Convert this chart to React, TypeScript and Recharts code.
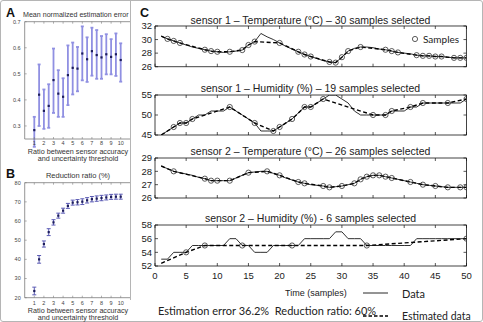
import React from 'react';
import { ComposedChart, Line, Scatter, ErrorBar, XAxis, YAxis } from 'recharts';

const sans = '"Liberation Sans", Arial, sans-serif';
const lato = 'Lato, "Liberation Sans", sans-serif';

// ratio between sensor accuracy and uncertainty threshold
const ratios = [1, 1.5, 2, 2.5, 3, 3.5, 4, 4.5, 5, 5.5, 6, 6.5, 7, 7.5, 8, 8.5, 9, 9.5, 10];
const ratioTicks = [1, 2, 3, 4, 5, 6, 7, 8, 9, 10];

// mean normalized estimation error with its spread
const errMean = [0.284, 0.42, 0.358, 0.377, 0.476, 0.424, 0.412, 0.495, 0.523, 0.52, 0.578, 0.556, 0.587, 0.572, 0.563, 0.575, 0.565, 0.575, 0.553];
const errLow = [0.22, 0.3, 0.289, 0.293, 0.35, 0.335, 0.335, 0.38, 0.421, 0.433, 0.475, 0.469, 0.493, 0.481, 0.481, 0.498, 0.498, 0.492, 0.47];
const errHigh = [0.335, 0.536, 0.44, 0.46, 0.597, 0.514, 0.483, 0.609, 0.62, 0.603, 0.682, 0.64, 0.677, 0.668, 0.645, 0.652, 0.633, 0.655, 0.617];
const errTicks = [0.3, 0.4, 0.5, 0.6, 0.7];

// reduction ratio (%) with its spread
const redMean = [23.5, 40.0, 48.0, 54.2, 59.3, 62.8, 65.4, 67.9, 69.6, 69.8, 70.1, 70.8, 71.4, 71.7, 72.0, 72.3, 72.6, 72.7, 72.7];
const redLow = [21.5, 38.0, 46.4, 52.4, 57.9, 61.5, 64.1, 66.6, 68.3, 68.4, 68.6, 69.4, 70.0, 70.3, 70.6, 71.0, 71.3, 71.4, 71.4];
const redHigh = [25.5, 42.0, 49.6, 56.0, 60.7, 64.1, 66.7, 69.2, 70.9, 71.2, 71.6, 72.2, 72.8, 73.1, 73.4, 73.6, 73.9, 74.0, 74.0];
const redTicks = [20, 30, 40, 50, 60, 70, 80];

// time (samples)
const timeSteps = [
  1, 2, 3, 4, 5, 6, 7, 8, 9, 10, 11, 12, 13, 14, 15, 16, 17, 18, 19, 20, 21, 22, 23, 24, 25,
  26, 27, 28, 29, 30, 31, 32, 33, 34, 35, 36, 37, 38, 39, 40, 41, 42, 43, 44, 45, 46, 47, 48, 49, 50,
];
const timeTicks = [0, 5, 10, 15, 20, 25, 30, 35, 40, 45, 50];

// sensor 1 - temperature
const s1Temp = [
  30.5, 30.1, 29.8, 29.5, 29.2, 28.9, 28.7, 28.5, 28.3, 28.2, 28.1, 28.2, 28.3, 28.45, 29.2, 29.7, 30.9, 30.4, 30.0, 29.5,
  29.0, 28.6, 28.2, 27.8, 27.5, 27.2, 26.9, 26.7, 26.6, 27.4, 28.3, 28.7, 28.9, 28.9, 28.8, 28.6, 28.5, 28.3, 28.1, 28.0,
  27.9, 27.7, 27.6, 27.6, 27.5, 27.5, 27.4, 27.3, 27.3, 27.3,
];
const s1TempSampleT = [2, 3, 4, 8, 9, 10, 12, 14, 15, 16, 20, 23, 24, 25, 28, 29, 30, 31, 33, 37, 38, 39, 42, 43, 44, 45, 46, 48, 49, 50];
const s1TempSampleV = [30.1, 29.8, 29.5, 28.5, 28.3, 28.2, 28.2, 28.45, 29.2, 29.7, 29.5, 28.2, 27.8, 27.5, 26.7, 26.6, 27.4, 28.3, 28.9, 28.5, 28.3, 28.1, 27.7, 27.6, 27.6, 27.5, 27.5, 27.3, 27.3, 27.3];
const s1TempStart = 30.5;

// sensor 1 - humidity
const s1Hum = [
  45, 46, 47, 48, 48, 49, 50, 50, 51, 51, 51, 52, 51, 50, 49, 48, 46, 46, 46, 47,
  48, 49, 50.5, 52, 52, 53, 54, 55, 55, 54, 53, 51, 50, 50, 50, 50, 50, 51, 51, 51,
  52, 52, 53, 53, 53, 53, 53, 53, 53, 54,
];
const s1HumSampleT = [3, 4, 5, 6, 12, 16, 19, 20, 22, 24, 25, 27, 35, 37, 38, 41, 43, 47, 50];
const s1HumSampleV = [47, 48, 48, 49, 52, 48, 46, 47, 49, 52, 52, 54, 50, 50, 51, 52, 53, 53, 54];
const s1HumStart = 45;

// sensor 2 - temperature
const s2Temp = [
  28.4, 28.2, 28.0, 27.9, 27.8, 27.7, 27.55, 27.45, 27.3, 27.3, 27.3, 27.3, 27.5, 27.7, 27.9, 27.95, 28.0, 28.0, 27.85, 27.7,
  27.5, 27.35, 27.2, 27.1, 27.0, 26.95, 26.9, 26.8, 26.85, 26.9, 27.0, 27.1, 27.4, 27.6, 27.7, 27.7, 27.6, 27.5, 27.4, 27.3,
  27.2, 27.1, 27.0, 26.95, 26.9, 26.85, 26.8, 26.8, 26.8, 26.8,
];
const s2TempSampleT = [3, 8, 9, 10, 12, 15, 18, 20, 23, 24, 27, 28, 30, 32, 33, 34, 35, 36, 37, 38, 41, 43, 45, 47, 49, 50];
const s2TempSampleV = [28.0, 27.45, 27.3, 27.3, 27.3, 27.9, 28.0, 27.7, 27.2, 27.1, 26.9, 26.8, 26.9, 27.1, 27.4, 27.6, 27.7, 27.7, 27.6, 27.5, 27.2, 27.0, 26.9, 26.8, 26.8, 26.8];
const s2TempStart = 28.4;

// sensor 2 - humidity
const s2Hum = [
  53, 53, 54, 54, 54, 55, 55, 55, 55, 55, 55, 56, 56, 55, 55, 54, 54, 54, 55, 55,
  55, 55, 55, 56, 56, 56, 56, 56, 57, 57, 56, 56, 56, 55, 55, 55, 55, 55, 55, 55,
  55, 56, 56, 56, 56, 56, 56, 56, 56, 56,
];
const s2HumSampleT = [5, 8, 14, 22, 34, 50];
const s2HumSampleV = [54, 55, 55, 55, 55, 56];
const s2HumStart = 52.4;

type RatioRow = { x: number; mean: number; err: [number, number] };
type SensorRow = { t: number; data: number; est: number | null; sample: number | null };

function ratioRows(mean: number[], low: number[], high: number[]): RatioRow[] {
  return ratios.map((x, i) => ({ x, mean: mean[i], err: [mean[i] - low[i], high[i] - mean[i]] }));
}

function sensorRows(values: number[], sampleT: number[], sampleV: number[], start: number): SensorRow[] {
  return timeSteps.map((t, i) => {
    const k = sampleT.indexOf(t);
    const sample = k >= 0 ? sampleV[k] : null;
    const est = i === 0 && k < 0 ? start : sample;
    return { t, data: values[i], est, sample };
  });
}

const noTick = () => <g />;

const meanMark = (p: any) => (
  <rect x={p.cx - 1.1} y={p.cy - 1.1} width={2.2} height={2.2} fill="#1d1d5c" />
);

function Text(props: {
  x: number; y: number; size: number; children: React.ReactNode; lh?: number;
  w?: number; align?: 'left' | 'center'; weight?: number; family?: string; color?: string;
}) {
  const { x, y, size, w, align = 'left', weight = 400, family = sans, color = '#222' } = props;
  const lh = props.lh ?? Math.ceil(size * 1.15);
  return (
    <div
      style={{
        position: 'absolute', left: x, top: y - lh / 2, width: w, height: lh, lineHeight: `${lh}px`,
        fontSize: size, fontWeight: weight, fontFamily: family, color, textAlign: align, whiteSpace: 'pre',
      }}
    >
      {props.children}
    </div>
  );
}

function RatioChart(props: {
  top: number; plotTop: number; plotBottom: number; rows: RatioRow[];
  domain: [number, number]; yTicks: number[]; fmt: (v: number) => string;
  barColor: string; barWidth: number; capWidth: number; labelGap: number;
}) {
  const { top, plotTop, plotBottom, rows, domain, yTicks, fmt } = props;
  const xh = 11;
  const axisColor = '#7a7a7a';
  const tickFont = { fontSize: 5.5, fill: '#444', fontFamily: sans };
  return (
    <div style={{ position: 'absolute', left: 0, top }}>
      <ComposedChart
        width={140}
        height={plotBottom - top + xh}
        data={rows}
        margin={{ top: plotTop - top, right: 9.7, bottom: 0, left: 4.7 }}
      >
        <XAxis xAxisId="b" dataKey="x" type="number" domain={[0, 11]} ticks={ratioTicks} interval={0} allowDataOverflow
          height={xh} tickLine={false} tickSize={1} tickMargin={props.labelGap}
          axisLine={{ stroke: axisColor, strokeWidth: 0.8 }} tick={tickFont} />
        <XAxis xAxisId="bi" dataKey="x" type="number" domain={[0, 11]} ticks={ratioTicks} interval={0} allowDataOverflow
          orientation="bottom" mirror axisLine={false} tickLine={{ stroke: axisColor, strokeWidth: 0.6 }} tickSize={2} tick={noTick} />
        <XAxis xAxisId="t" dataKey="x" type="number" domain={[0, 11]} ticks={ratioTicks} interval={0} allowDataOverflow
          orientation="top" mirror axisLine={{ stroke: axisColor, strokeWidth: 0.8 }} tickLine={{ stroke: axisColor, strokeWidth: 0.6 }} tickSize={2} tick={noTick} />
        <YAxis yAxisId="l" type="number" domain={domain} ticks={yTicks} interval={0} allowDataOverflow width={20}
          tickLine={false} tickSize={2} tickMargin={2} axisLine={{ stroke: axisColor, strokeWidth: 0.8 }}
          tick={tickFont} tickFormatter={fmt} />
        <YAxis yAxisId="li" type="number" domain={domain} ticks={yTicks} interval={0} allowDataOverflow
          mirror axisLine={false} tickLine={{ stroke: axisColor, strokeWidth: 0.6 }} tickSize={2} tick={noTick} />
        <Scatter xAxisId="b" yAxisId="l" dataKey="mean" shape={meanMark} isAnimationActive={false}>
          <ErrorBar dataKey="err" direction="y" stroke={props.barColor} strokeWidth={props.barWidth}
            width={props.capWidth} isAnimationActive={false} />
        </Scatter>
      </ComposedChart>
    </div>
  );
}

function SensorChart(props: {
  top: number; bottom: number; rows: SensorRow[]; domain: [number, number]; yTicks: number[]; showTime: boolean;
}) {
  const { top, bottom, rows, domain, yTicks, showTime } = props;
  const mTop = 6;
  const xh = showTime ? 16 : 6;
  const ink = '#111';
  const tickFont = { fontSize: 9.5, fill: '#222', fontFamily: sans };
  return (
    <div style={{ position: 'absolute', left: 130, top: top - mTop }}>
      <ComposedChart
        width={353}
        height={bottom - top + mTop + xh}
        data={rows}
        margin={{ top: mTop, right: 16.5, bottom: 0, left: 5 }}
      >
        <XAxis xAxisId="b" dataKey="t" type="number" domain={[0, 50]} ticks={timeTicks} interval={0} allowDataOverflow
          height={xh} tickLine={false} tickSize={2} tickMargin={4.3}
          axisLine={{ stroke: ink, strokeWidth: 0.8 }} tick={showTime ? tickFont : false} />
        <XAxis xAxisId="bi" dataKey="t" type="number" domain={[0, 50]} ticks={timeTicks} interval={0} allowDataOverflow
          orientation="bottom" mirror axisLine={false} tickLine={{ stroke: ink, strokeWidth: 0.7 }} tickSize={3} tick={noTick} />
        <XAxis xAxisId="t" dataKey="t" type="number" domain={[0, 50]} ticks={timeTicks} interval={0} allowDataOverflow
          orientation="top" mirror axisLine={{ stroke: ink, strokeWidth: 0.8 }} tickLine={{ stroke: ink, strokeWidth: 0.7 }} tickSize={3} tick={noTick} />
        <YAxis yAxisId="l" type="number" domain={domain} ticks={yTicks} interval={0} allowDataOverflow width={20}
          tickLine={false} tickSize={1} tickMargin={2} axisLine={{ stroke: ink, strokeWidth: 0.8 }} tick={tickFont} />
        <YAxis yAxisId="li" type="number" domain={domain} ticks={yTicks} interval={0} allowDataOverflow
          mirror axisLine={false} tickLine={{ stroke: ink, strokeWidth: 0.7 }} tickSize={3} tick={noTick} />
        <YAxis yAxisId="r" type="number" domain={domain} ticks={yTicks} interval={0} allowDataOverflow
          orientation="right" mirror axisLine={{ stroke: ink, strokeWidth: 0.8 }} tickLine={{ stroke: ink, strokeWidth: 0.7 }} tickSize={3} tick={noTick} />
        <Line xAxisId="b" yAxisId="l" type="linear" dataKey="data" stroke="#1a1a1a" strokeWidth={0.9}
          dot={false} activeDot={false} isAnimationActive={false} />
        <Line xAxisId="b" yAxisId="l" type="linear" dataKey="est" stroke="#000" strokeWidth={1.4} strokeDasharray="4 2.5"
          connectNulls dot={false} activeDot={false} isAnimationActive={false} />
        <Line xAxisId="b" yAxisId="l" type="linear" dataKey="sample" stroke="none"
          dot={{ r: 2.6, stroke: '#333', strokeWidth: 0.8, fill: 'none' }} activeDot={false} isAnimationActive={false} />
      </ComposedChart>
    </div>
  );
}

const errRows = ratioRows(errMean, errLow, errHigh);
const redRows = ratioRows(redMean, redLow, redHigh);
const s1TempRows = sensorRows(s1Temp, s1TempSampleT, s1TempSampleV, s1TempStart);
const s1HumRows = sensorRows(s1Hum, s1HumSampleT, s1HumSampleV, s1HumStart);
const s2TempRows = sensorRows(s2Temp, s2TempSampleT, s2TempSampleV, s2TempStart);
const s2HumRows = sensorRows(s2Hum, s2HumSampleT, s2HumSampleV, s2HumStart);

export default function App() {
  return (
    <div style={{ position: 'fixed', left: 0, top: 0, width: 483, height: 322, background: '#fff', overflow: 'hidden', fontFamily: sans }}>
      <div style={{ position: 'absolute', left: 0, top: 0, width: 481, height: 320, border: '1px solid #b5b5b5', borderRadius: 3 }} />
      <div style={{ position: 'absolute', left: 130, top: 0, width: 1, height: 300, background: '#b5b5b5' }} />

      {/* left column: A and B */}
      <div style={{ position: 'absolute', left: 0, top: 0, width: 130, height: 322, overflow: 'hidden' }}>
        <Text x={6} y={13} size={12.5} weight={700} color="#111">A</Text>
        <Text x={23} y={15} size={7.1} color="#333">Mean normalized estimation error</Text>
        <RatioChart top={0} plotTop={21.7} plotBottom={139} rows={errRows} domain={[0.25, 0.7]} yTicks={errTicks}
          fmt={(v) => v.toFixed(1)} barColor="#9090e2" barWidth={1.8} capWidth={1.5} labelGap={1.3} />
        <Text x={18} y={151.3} w={120} size={7.2} lh={7.5} align="center" color="#333">Ratio between sensor accuracy</Text>
        <Text x={18} y={159} w={120} size={7.2} lh={7.5} align="center" color="#333">and uncertainty threshold</Text>

        <Text x={6} y={174} size={12.5} weight={700} color="#111">B</Text>
        <Text x={18} y={175} w={120} size={7.5} align="center" color="#333">Reduction ratio (%)</Text>
        <RatioChart top={160} plotTop={182.7} plotBottom={297.7} rows={redRows} domain={[20, 80]} yTicks={redTicks}
          fmt={(v) => String(v)} barColor="#5a5ab4" barWidth={1} capWidth={2} labelGap={2.6} />
        <Text x={18} y={310.6} w={120} size={7.2} lh={7.5} align="center" color="#333">Ratio between sensor accuracy</Text>
        <Text x={18} y={318.2} w={120} size={7.2} lh={7.5} align="center" color="#333">and uncertainty threshold</Text>
      </div>

      {/* right column: C */}
      <Text x={140} y={13} size={12.5} weight={700} color="#111">C</Text>

      <Text x={155} y={20.7} w={311} size={10.5} align="center">sensor 1 – Temperature (°C) – 30 samples selected</Text>
      <SensorChart top={26} bottom={66.7} rows={s1TempRows} domain={[26, 32]} yTicks={[26, 28, 30, 32]} showTime={false} />
      <svg style={{ position: 'absolute', left: 410, top: 34 }} width={10} height={10}>
        <circle cx={5} cy={5} r={2.6} stroke="#333" strokeWidth={0.8} fill="none" />
      </svg>
      <Text x={423} y={39} size={10} family={lato}>Samples</Text>

      <Text x={155} y={88.3} w={311} size={10.5} align="center">sensor 1 – Humidity (%) – 19 samples selected</Text>
      <SensorChart top={95} bottom={135} rows={s1HumRows} domain={[45, 55]} yTicks={[45, 50, 55]} showTime={false} />

      <Text x={155} y={151} w={311} size={10.5} align="center">sensor 2 – Temperature (°C) – 26 samples selected</Text>
      <SensorChart top={158.3} bottom={198.3} rows={s2TempRows} domain={[26, 29]} yTicks={[26, 27, 28, 29]} showTime={false} />

      <Text x={155} y={218.3} w={311} size={10.5} align="center">sensor 2 – Humidity (%) - 6 samples selected</Text>
      <SensorChart top={225} bottom={266} rows={s2HumRows} domain={[52, 58]} yTicks={[52, 54, 56, 58]} showTime={true} />

      <Text x={285} y={293} size={9}>Time (samples)</Text>
      <svg style={{ position: 'absolute', left: 360, top: 285 }} width={32} height={40}>
        <line x1={3} y1={8} x2={28} y2={8} stroke="#111" strokeWidth={0.9} />
        <line x1={3} y1={31} x2={28} y2={31} stroke="#000" strokeWidth={1.5} strokeDasharray="3.5 2" />
      </svg>
      <Text x={402} y={293} size={11} family={lato}>Data</Text>
      <Text x={402} y={316} size={10.5} family={lato}>Estimated data</Text>
      <Text x={158} y={310} size={11} family={lato}>Estimation error 36.2%  Reduction ratio: 60%</Text>
    </div>
  );
}
